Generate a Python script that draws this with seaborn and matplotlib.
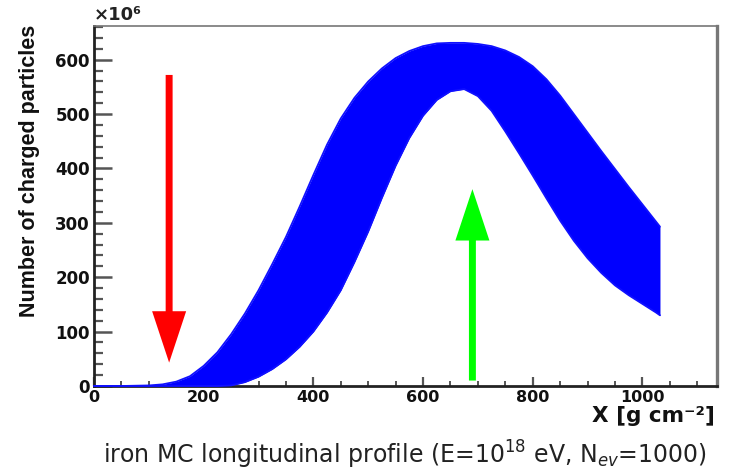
import numpy as np
import pandas as pd
import matplotlib
matplotlib.use("Agg")
import matplotlib.pyplot as plt
from matplotlib.ticker import MultipleLocator
import seaborn as sns

# ---- data (units: g/cm^2 and 10^6 particles) ----
depth = [0, 50, 100, 125, 150, 175, 200, 225, 250, 275, 300, 325, 350, 375,
         400, 425, 450, 475, 500, 525, 550, 575, 600, 625, 650, 675, 700,
         725, 750, 775, 800, 825, 850, 875, 900, 925, 950, 975, 1000, 1025,
         1032]
upper_envelope = [0, 0, 1, 3, 8, 18, 37, 62, 95, 133, 176, 224, 274, 330,
                  388, 444, 492, 530, 560, 584, 603, 616, 625, 630, 631, 631,
                  629, 625, 617, 605, 588, 564, 534, 500, 466, 432, 399, 366,
                  334, 302, 293]
lower_envelope = [0, 0, 0, 0, 0, 0, 0, 0, 1, 7, 17, 31, 49, 72,
                  100, 135, 176, 228, 284, 346, 405, 456, 497, 526, 542, 546,
                  533, 506, 468, 428, 387, 345, 304, 267, 235, 208, 185, 167,
                  151, 135, 130]

xticks = [0, 200, 400, 600, 800, 1000]
yticks = [0, 100, 200, 300, 400, 500, 600]

red_arrow = {"x": 137, "start": 572, "end": 43}
green_arrow = {"x": 690, "start": 10, "end": 362}

# ---- styling ----
sns.set_style("white")
plt.rcParams["font.family"] = ["DejaVu Sans"]

n = len(depth)
df = pd.DataFrame({
    "X": depth + depth,
    "N": upper_envelope + lower_envelope,
    "edge": ["upper"] * n + ["lower"] * n,
})

W, H = 743, 474
fig = plt.figure(figsize=(W / 100, H / 100), dpi=100)
ax = fig.add_axes([94 / W, 1 - 386 / H, 623 / W, 360 / H])

blue = "#0000ff"
ax.fill_between(depth, lower_envelope, upper_envelope, color=blue, lw=0, zorder=3)
sns.lineplot(data=df, x="X", y="N", units="edge", estimator=None, sort=False,
             color="#1010ff", lw=1.3, ax=ax, zorder=3, legend=False)
for ln in ax.lines:
    ln.set_clip_on(False)

ax.set_xlim(0, 1136)
ax.set_ylim(0, 662)

# arrows
ax.annotate("", xy=(red_arrow["x"], red_arrow["end"]),
            xytext=(red_arrow["x"], red_arrow["start"]),
            arrowprops=dict(facecolor="#ff0000", edgecolor="none", width=5,
                            headwidth=24.5, headlength=37, shrink=0), zorder=4)
ax.annotate("", xy=(green_arrow["x"], green_arrow["end"]),
            xytext=(green_arrow["x"], green_arrow["start"]),
            arrowprops=dict(facecolor="#00ff00", edgecolor="none", width=5,
                            headwidth=24.5, headlength=37, shrink=0), zorder=4)

# spines
for s in ["left", "bottom"]:
    ax.spines[s].set_color("#222222")
    ax.spines[s].set_linewidth(2.0)
ax.spines["top"].set_color("#777777")
ax.spines["top"].set_linewidth(1.2)
ax.spines["right"].set_color("#777777")
ax.spines["right"].set_linewidth(2.4)

# ticks
ax.set_xticks(xticks)
ax.set_yticks(yticks)
ax.xaxis.set_minor_locator(MultipleLocator(50))
ax.yaxis.set_minor_locator(MultipleLocator(20))
ax.tick_params(axis="y", which="major", direction="in", length=13, width=1.8,
               color="#555555", pad=3, labelsize=12, left=True, right=False)
ax.tick_params(axis="y", which="minor", direction="in", length=6.5, width=1.6,
               color="#555555", left=True, right=False)
ax.tick_params(axis="x", which="major", direction="in", length=6.5, width=1.6,
               color="#555555", pad=3, labelsize=11.5, bottom=True, top=False)
ax.tick_params(axis="x", which="minor", direction="in", length=3.3, width=1.4,
               color="#555555", bottom=True, top=False)
for lab in ax.get_xticklabels() + ax.get_yticklabels():
    lab.set_fontweight("bold")
    lab.set_color("#111111")

# axis titles
ax.set_xlabel("X [g cm⁻²]", fontsize=15.5, fontweight="bold", loc="right",
              color="#111111")
ax.xaxis.set_label_coords(0.997, -0.055)
ax.set_ylabel("")
fig.text(30 / W, 1 - 25 / H, "Number of charged particles", rotation=90,
         ha="center", va="top", fontsize=15.5, fontweight="bold",
         family=["Liberation Sans", "DejaVu Sans"], color="#111111")

# multiplier
ax.text(0.0, 1.006, "×10⁶", transform=ax.transAxes, ha="left", va="bottom",
        fontsize=13, fontweight="bold", color="#222222")

# caption
fig.text(405 / W, 1 - 455 / H,
         r"iron MC longitudinal profile (E=10$^{18}$ eV, N$_{ev}$=1000)",
         ha="center", va="center", fontsize=17, color="#222222")

fig.savefig("out.png", dpi=100)
